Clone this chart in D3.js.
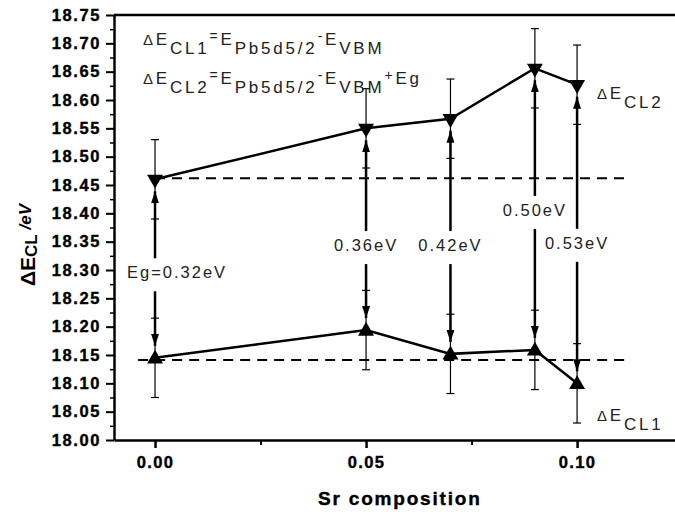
<!DOCTYPE html>
<html>
<head>
<meta charset="utf-8">
<script src="https://cdn.jsdelivr.net/npm/d3@7"></script>
<style>
  body { margin: 0; background: #fff; }
  svg { display: block; font-family: "Liberation Sans", Arial, sans-serif; }
</style>
</head>
<body>
<script>
// values
const srComp = [0, 0.05, 0.07, 0.09, 0.10]
const cl2Vals = [18.46, 18.55, 18.567, 18.656, 18.627]
const cl1Vals = [18.145, 18.194, 18.152, 18.159, 18.10]
const errVals = [0.07, 0.07, 0.07, 0.07, 0.07]
const gapLabels = ['Eg=0.32eV', '0.36eV', '0.42eV', '0.50eV', '0.53eV']
const gapLabelY = [18.296, 18.344, 18.344, 18.406, 18.348]
const refLevels = [18.462, 18.141]
const yTicks = d3.range(0, 16).map(i => 18 + i * 0.05)
const xTicks = [0, 0.05, 0.10]
const xMinor = [0.025, 0.075]

let width = 675
let height = 514

const svg = d3.select('body').append('svg')
  .attr('width', width)
  .attr('height', height)

const x = d3.scaleLinear().domain([-0.00972, 0.1232]).range([114, 675])
const y = d3.scaleLinear().domain([18, 18.75]).range([440, 15])

// arrow head
svg.append('defs').append('marker')
  .attr('id', 'head')
  .attr('viewBox', '0 0 12 8')
  .attr('refX', 12).attr('refY', 4)
  .attr('markerWidth', 12).attr('markerHeight', 8)
  .attr('markerUnits', 'userSpaceOnUse')
  .attr('orient', 'auto')
  .append('path')
  .attr('d', 'M0,0 L12,4 L0,8 Z')
  .attr('fill', '#000')

// minor ticks first so the axis sits on top
const yMinor = yTicks.slice(0, -1).map(v => v + 0.025)
svg.append('g')
  .attr('transform', 'translate(114,0)')
  .call(d3.axisLeft(y).tickValues(yMinor).tickSize(4).tickFormat(''))
  .call(g => g.select('.domain').remove())
  .selectAll('line').attr('stroke-width', 1.5)

svg.append('g')
  .attr('transform', 'translate(0,440)')
  .call(d3.axisBottom(x).tickValues(xMinor).tickSize(5).tickFormat(''))
  .call(g => g.select('.domain').remove())
  .selectAll('line').attr('stroke-width', 2)

const yAxis = svg.append('g')
  .attr('transform', 'translate(114,0)')
  .call(d3.axisLeft(y).tickValues(yTicks).tickSize(8).tickSizeOuter(0).tickPadding(5).tickFormat(d3.format('.2f')))
yAxis.select('.domain').attr('stroke-width', 2.5)
yAxis.selectAll('line').attr('stroke-width', 2)
yAxis.selectAll('text')
  .attr('font-size', 16.5)
  .attr('font-weight', 'bold')
  .attr('letter-spacing', 1.6)
  .attr('stroke', '#000').attr('stroke-width', 0.4)
  .attr('fill', '#000')

const xAxis = svg.append('g')
  .attr('transform', 'translate(0,440)')
  .call(d3.axisBottom(x).tickValues(xTicks).tickSize(8).tickSizeOuter(0).tickPadding(8).tickFormat(d3.format('.2f')))
xAxis.select('.domain').attr('stroke-width', 2.5)
xAxis.selectAll('line').attr('stroke-width', 2.5)
xAxis.selectAll('text')
  .attr('font-size', 16.5)
  .attr('font-weight', 'bold')
  .attr('letter-spacing', 1.4)
  .attr('stroke', '#000').attr('stroke-width', 0.4)
  .attr('fill', '#000')

// top frame line
svg.append('line')
  .attr('x1', x.range()[0]).attr('x2', x.range()[1])
  .attr('y1', y(18.75)).attr('y2', y(18.75))
  .attr('stroke', '#000').attr('stroke-width', 2.5)

// dashed reference levels
svg.append('g')
  .selectAll('line')
  .data(refLevels)
  .join('line')
  .attr('x1', (d, i) => x(i === 0 ? 0 : -0.004))
  .attr('x2', x(0.112))
  .attr('y1', d => y(d)).attr('y2', d => y(d))
  .attr('stroke', '#000')
  .attr('stroke-width', 2)
  .attr('stroke-dasharray', '10,7')

const pts = srComp.map((s, i) => ({ s, cl1: cl1Vals[i], cl2: cl2Vals[i], err: errVals[i], lab: gapLabels[i], ly: gapLabelY[i] }))

// error bars
const errG = svg.append('g').attr('stroke', '#000').attr('stroke-width', 1.2)
;['cl1', 'cl2'].forEach(k => {
  pts.forEach(d => {
    const cx = x(d.s)
    const lo = y(d[k] - d.err)
    const hi = y(d[k] + d.err)
    errG.append('line').attr('x1', cx).attr('x2', cx).attr('y1', lo).attr('y2', hi)
    errG.append('line').attr('x1', cx - 4).attr('x2', cx + 4).attr('y1', lo).attr('y2', lo)
    errG.append('line').attr('x1', cx - 4).attr('x2', cx + 4).attr('y1', hi).attr('y2', hi)
  })
})

// double arrows broken by the gap labels
const arrG = svg.append('g').attr('stroke', '#000').attr('stroke-width', 2.5)
pts.forEach(d => {
  const cx = x(d.s)
  const ly = y(d.ly)
  arrG.append('line')
    .attr('x1', cx).attr('x2', cx)
    .attr('y1', ly - 14).attr('y2', y(d.cl2) + 12)
    .attr('marker-end', 'url(#head)')
  arrG.append('line')
    .attr('x1', cx).attr('x2', cx)
    .attr('y1', ly + 19).attr('y2', y(d.cl1) - 12)
    .attr('marker-end', 'url(#head)')
})

// connecting lines
const line = d3.line().x(d => x(d[0])).y(d => y(d[1]))
svg.append('path')
  .attr('d', line(srComp.map((s, i) => [s, cl2Vals[i]])))
  .attr('fill', 'none').attr('stroke', '#000').attr('stroke-width', 2.5)
svg.append('path')
  .attr('d', line(srComp.map((s, i) => [s, cl1Vals[i]])))
  .attr('fill', 'none').attr('stroke', '#000').attr('stroke-width', 2.5)

// markers
const tri = d3.symbol().type(d3.symbolTriangle).size(110)
svg.append('g').selectAll('path')
  .data(pts).join('path')
  .attr('d', tri)
  .attr('transform', d => `translate(${x(d.s)},${y(d.cl2)}) rotate(180)`)
  .attr('fill', '#000')
svg.append('g').selectAll('path')
  .data(pts).join('path')
  .attr('d', tri)
  .attr('transform', d => `translate(${x(d.s)},${y(d.cl1) + 1})`)
  .attr('fill', '#000')

// gap labels
svg.append('g').selectAll('text')
  .data(pts).join('text')
  .attr('x', (d, i) => i === 0 ? x(d.s) - 28 : x(d.s))
  .attr('y', d => y(d.ly))
  .attr('dy', '0.35em')
  .attr('text-anchor', (d, i) => i === 0 ? 'start' : 'middle')
  .attr('font-size', 16.5)
  .attr('letter-spacing', 2)
  .attr('fill', '#222')
  .text(d => d.lab)

// formula text, tspans for the subscripts
function formula(xp, yp, parts) {
  const t = svg.append('text')
    .attr('x', xp).attr('y', yp)
    .attr('font-size', 17)
    .attr('letter-spacing', 2.8)
    .attr('fill', '#222')
  let shift = 0
  parts.forEach(p => {
    const want = p.sub ? 9 : p.sup ? -4 : 0
    t.append('tspan')
      .attr('dy', want - shift)
      .attr('font-size', p.size || 17)
      .text(p.t)
    shift = want
  })
  return t
}
formula(143, 45, [
  { t: 'Δ', size: 15 }, { t: 'E' }, { t: 'CL1', sub: true },
  { t: '=', sup: true, size: 14 }, { t: 'E' }, { t: 'Pb5d5/2', sub: true },
  { t: '-', sup: true, size: 14 }, { t: 'E' }, { t: 'VBM', sub: true }
])
formula(143, 84, [
  { t: 'Δ', size: 15 }, { t: 'E' }, { t: 'CL2', sub: true },
  { t: '=', sup: true, size: 14 }, { t: 'E' }, { t: 'Pb5d5/2', sub: true },
  { t: '-', sup: true, size: 14 }, { t: 'E' }, { t: 'VBM', sub: true },
  { t: '+', sup: true, size: 14 }, { t: 'Eg' }
])
formula(597, 99, [{ t: 'Δ', size: 15 }, { t: 'E' }, { t: 'CL2', sub: true }])
formula(597, 421, [{ t: 'Δ', size: 15 }, { t: 'E' }, { t: 'CL1', sub: true }])

// axis titles
svg.append('text')
  .attr('x', x(0.058)).attr('y', 505)
  .attr('text-anchor', 'middle')
  .attr('font-size', 19)
  .attr('font-weight', 'bold')
  .attr('letter-spacing', 1.8)
  .attr('stroke', '#000').attr('stroke-width', 0.4)
  .text('Sr composition')

const yt = svg.append('text')
  .attr('transform', 'translate(35,245) rotate(-90)')
  .attr('text-anchor', 'middle')
  .attr('font-weight', 'bold')
  .attr('font-size', 21)
yt.append('tspan').text('ΔE')
yt.append('tspan').attr('font-size', 17).attr('dy', 2).text('CL')
yt.append('tspan').attr('font-size', 17).attr('dy', -6).attr('font-style', 'italic').text(' /eV')
</script>
</body>
</html>
